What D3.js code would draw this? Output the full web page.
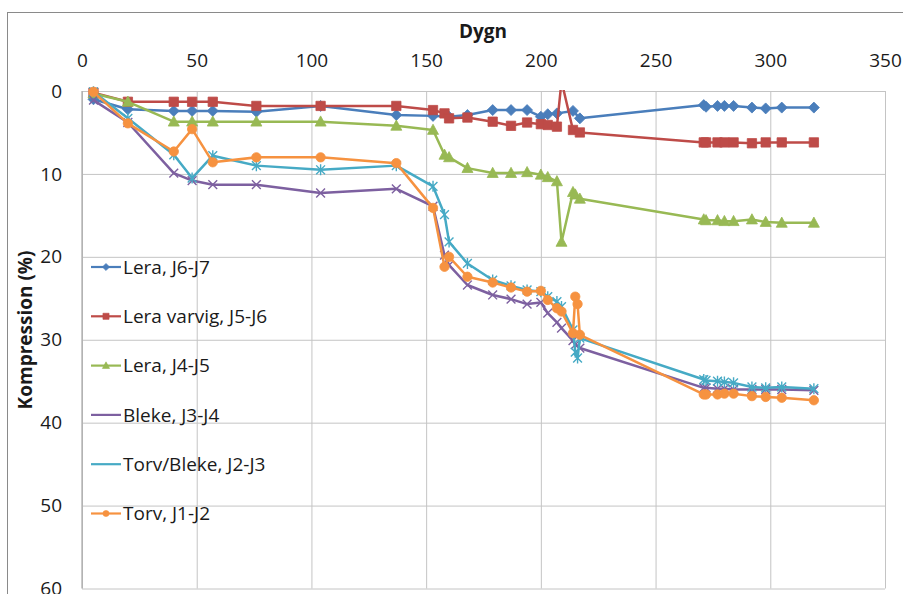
<!DOCTYPE html>
<html><head><meta charset="utf-8">
<script src="https://cdn.jsdelivr.net/npm/d3@7"></script>
<style>body{margin:0;background:#fff;} svg{display:block;font-family:"Open Sans",sans-serif;}</style>
</head><body><svg id="c" width="903" height="594"></svg>
<script>
// ---- data ----
const days = [5, 20, 40, 48, 57, 76, 104, 137, 153, 158, 160, 168, 179, 187, 194, 200, 203, 207, 209, 214, 215, 216, 217, 271, 272, 277, 280, 284, 292, 298, 305, 319];
const seriesNames = ["Lera, J6-J7", "Lera varvig, J5-J6", "Lera, J4-J5", "Bleke, J3-J4", "Torv/Bleke, J2-J3", "Torv, J1-J2"];
const leraJ6J7   = [1.0, 2.2, 2.4, 2.4, 2.4, 2.5, 1.8, 2.9, 3.0, null, 3.1, 2.9, 2.3, 2.3, 2.3, 3.1, 2.8, 2.7, null, 2.4, null, null, 3.3, 1.7, 1.9, 1.8, 1.8, 1.8, 2.0, 2.1, 2.0, 2.0];
const leraVarvig = [0.2, 1.3, 1.3, 1.3, 1.3, 1.8, 1.8, 1.8, 2.3, 2.7, 3.3, 3.2, 3.7, 4.2, 3.8, 4.0, 4.1, 4.3, -1.2, 4.7, null, null, 5.0, 6.2, 6.2, 6.2, 6.2, 6.2, 6.3, 6.2, 6.2, 6.2];
const leraJ4J5   = [0.3, 1.3, 3.7, 3.7, 3.7, 3.7, 3.7, 4.2, 4.7, 7.7, 8.0, 9.3, 9.9, 9.9, 9.8, 10.1, 10.4, 10.9, 18.2, 12.2, 12.5, null, 13.0, 15.5, 15.6, 15.6, 15.7, 15.7, 15.5, 15.8, 15.9, 15.9];
const bleke      = [1.1, 3.8, 9.9, 10.8, 11.3, 11.3, 12.3, 11.8, 13.9, 19.8, 21.0, 23.4, 24.6, 25.1, 25.7, 25.5, 26.8, 27.9, 28.6, 30.1, 30.6, null, 31.0, 35.8, 35.8, 35.9, 35.9, 36.0, 36.0, 36.0, 36.0, 36.1];
const torvBleke  = [0.1, 3.3, 7.7, 10.5, 7.8, 9.0, 9.5, 9.0, 11.5, 14.9, 18.2, 20.8, 22.8, 23.5, 24.0, 24.2, 24.8, 25.4, 26.0, 28.8, 31.5, 32.2, 29.8, 34.8, 34.9, 35.0, 35.1, 35.2, 35.7, 35.8, 35.7, 35.9];
const torv       = [0.1, 3.9, 7.3, 4.6, 8.6, 8.0, 8.0, 8.7, 14.1, 21.2, 20.0, 22.4, 23.1, 23.7, 24.2, 24.1, 25.2, 26.2, 26.6, 29.2, 24.8, 25.7, 29.4, 36.6, 36.6, 36.6, 36.5, 36.5, 36.8, 36.9, 37.0, 37.3];
const xTicks = [0, 50, 100, 150, 200, 250, 300, 350];
const yTicks = [0, 10, 20, 30, 40, 50, 60];
const xTitle = "Dygn";
const yTitle = "Kompression (%)";

const seriesValues = [leraJ6J7, leraVarvig, leraJ4J5, bleke, torvBleke, torv];
const colors = ["#4A7EBB", "#BE4B48", "#98B954", "#7D60A0", "#46AAC5", "#F69240"];
const markerTypes = ["diamond", "square", "triangle", "x", "star", "circle"];

// ---- layout ----
const svg = d3.select("#c");
const X0 = 82, X1 = 885, Y0 = 91, Y1 = 588.5;
const x = d3.scaleLinear().domain([0, 350]).range([X0, X1]);
const y = d3.scaleLinear().domain([0, 60]).range([Y0, Y1]);

svg.append("rect").attr("x", 7.5).attr("y", 12.5).attr("width", 910).attr("height", 600)
  .attr("fill", "#fff").attr("stroke", "#8a8a8a").attr("stroke-width", 1);

const gx = svg.append("g").attr("transform", `translate(0,${Y0})`)
  .call(d3.axisTop(x).tickValues(xTicks).tickSize(-(Y1 - Y0)).tickPadding(24).tickFormat(d3.format("d")));
const gy = svg.append("g").attr("transform", `translate(${X0},0)`)
  .call(d3.axisLeft(y).tickValues(yTicks).tickSize(-(X1 - X0)).tickPadding(20).tickFormat(d3.format("d")));
[gx, gy].forEach(g => {
  g.select(".domain").remove();
  g.selectAll(".tick line").attr("stroke", "#c4c4c4").attr("stroke-width", 1);
  g.selectAll(".tick text").attr("fill", "#1a1a1a").style("font-size", "19px").style("font-family", "'Open Sans',sans-serif");
});
// left axis line
svg.append("line").attr("x1", X0).attr("x2", X0).attr("y1", Y0).attr("y2", Y1)
  .attr("stroke", "#a8a8a8").attr("stroke-width", 1.2);

svg.append("text").attr("x", 483).attr("y", 38).attr("text-anchor", "middle")
  .style("font-weight", "bold").style("font-size", "19px").attr("fill", "#1a1a1a").text(xTitle);
svg.append("text").attr("transform", "translate(25,330) rotate(-90)").attr("text-anchor", "middle")
  .attr("dominant-baseline", "central")
  .style("font-weight", "bold").style("font-size", "19px").attr("fill", "#1a1a1a").text(yTitle);

// ---- markers ----
function markerPath(t, s) {
  switch (t) {
    case "diamond": return `M0,${-s}L${s},0L0,${s}L${-s},0Z`;
    case "square": { const h = s * 0.85; return `M${-h},${-h}H${h}V${h}H${-h}Z`; }
    case "triangle": return `M0,${-s * 1.05}L${s},${s * 0.8}L${-s},${s * 0.8}Z`;
    case "circle": { const r = s * 0.85; return `M${r},0A${r},${r} 0 1,1 ${-r},0A${r},${r} 0 1,1 ${r},0Z`; }
    case "x": { const h = s * 0.8; return `M${-h},${-h}L${h},${h}M${-h},${h}L${h},${-h}`; }
    case "star": { const h = s * 0.8; return `M${-h},${-h}L${h},${h}M${-h},${h}L${h},${-h}M0,${-s}L0,${s}`; }
  }
}
function isStroke(t) { return t === "x" || t === "star"; }

svg.append("clipPath").attr("id", "plotclip").append("rect")
  .attr("x", X0 - 6).attr("y", Y0 - 1).attr("width", X1 - X0 + 12).attr("height", Y1 - Y0 + 2);

const line = d3.line().x(d => x(d.day)).y(d => y(d.v));
const plot = svg.append("g");
seriesValues.forEach((vals, i) => {
  const pts = days.map((d, k) => ({ day: d, v: vals[k] })).filter(p => p.v !== null);
  const g = plot.append("g");
  g.append("path").datum(pts).attr("d", line).attr("fill", "none")
    .attr("stroke", colors[i]).attr("stroke-width", 2.5).attr("stroke-linejoin", "round")
    .attr("clip-path", "url(#plotclip)");
  const t = markerTypes[i];
  g.selectAll("path.m").data(pts.filter(p => p.v >= 0)).join("path").attr("class", "m")
    .attr("transform", p => `translate(${x(p.day)},${y(p.v)})`)
    .attr("d", markerPath(t, 5.5))
    .attr("fill", isStroke(t) ? "none" : colors[i])
    .attr("stroke", colors[i]).attr("stroke-width", isStroke(t) ? 1.4 : 0.8);
});

// ---- legend ----
const leg = svg.append("g");
seriesNames.forEach((name, i) => {
  const ly = 267 + i * 49.3;
  leg.append("line").attr("x1", 91).attr("x2", 121).attr("y1", ly).attr("y2", ly)
    .attr("stroke", colors[i]).attr("stroke-width", 2.2);
  const t = markerTypes[i];
  if (!isStroke(t)) {
    leg.append("path").attr("transform", `translate(106,${ly})`).attr("d", markerPath(t, 3.6))
      .attr("fill", colors[i]).attr("stroke", colors[i]).attr("stroke-width", 0.6);
  }
  leg.append("text").attr("x", 123).attr("y", ly).attr("dy", "0.36em")
    .style("font-size", "19px").attr("fill", "#1a1a1a").text(name);
});
</script></body></html>
